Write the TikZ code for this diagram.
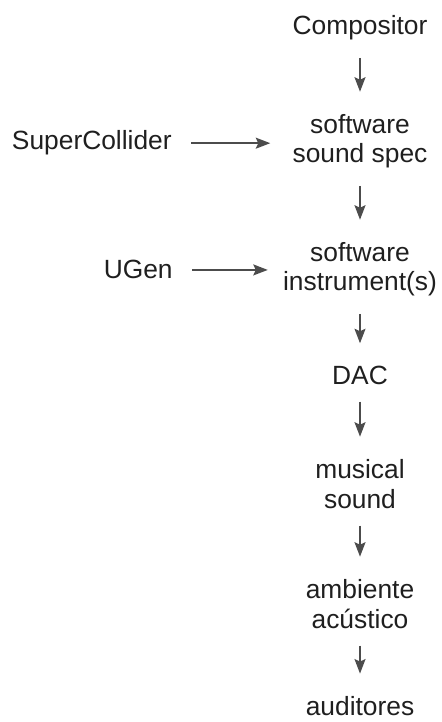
\documentclass[tikz,border=0pt]{standalone}
\usepackage{fontspec}
\setmainfont{Liberation Sans}
\usetikzlibrary{arrows.meta}

\begin{document}
\begin{tikzpicture}[x=0.02cm, y=-0.02cm, >={Stealth[length=2.9mm, width=2.2mm, inset=0.5mm]},
    word/.style={font=\fontsize{15}{17}\selectfont, text=black!88, align=center, inner sep=0pt, anchor=base},
    flow/.style={->, black!70, line width=0.9pt, shorten <=0.34cm, shorten >=0.44cm},
    feed/.style={->, black!70, line width=0.9pt, shorten <=0.38cm, shorten >=0.44cm}]
        % Bounding box
        \useasboundingbox (0,0) rectangle (441,722);
        
        % Main chain (base = last line)
        \node[word] (comp) at (360,35) {Compositor};
        \node[word] (spec) at (360,163) {software\\sound spec};
        \node[word] (instr) at (360,291) {software\\instrument(s)};
        \node[word] (dac) at (360,384) {DAC};
        \node[word] (music) at (360,508) {musical\\sound};
        \node[word] (amb) at (360,628) {ambiente\\acústico};
        \node[word] (aud) at (360,715) {auditores};
        
        % Inputs on the left
        \node[word, anchor=base east] (sc) at (172,150) {SuperCollider};
        \node[word, anchor=base east] (ugen) at (173,279) {UGen};
        
        % Arrows down
        \draw[flow] (comp) -- (spec);
        \draw[flow] (spec) -- (instr);
        \draw[flow] (instr) -- (dac);
        \draw[flow] (dac) -- (music);
        \draw[flow] (music) -- (amb);
        \draw[flow] (amb) -- (aud);
        
        % Arrows across
        \draw[feed] (sc.east) -- (sc.east -| spec.west);
        \draw[feed, shorten >=0.3cm] (ugen.east) -- (ugen.east -| instr.west);
    \end{tikzpicture}
\end{document}
